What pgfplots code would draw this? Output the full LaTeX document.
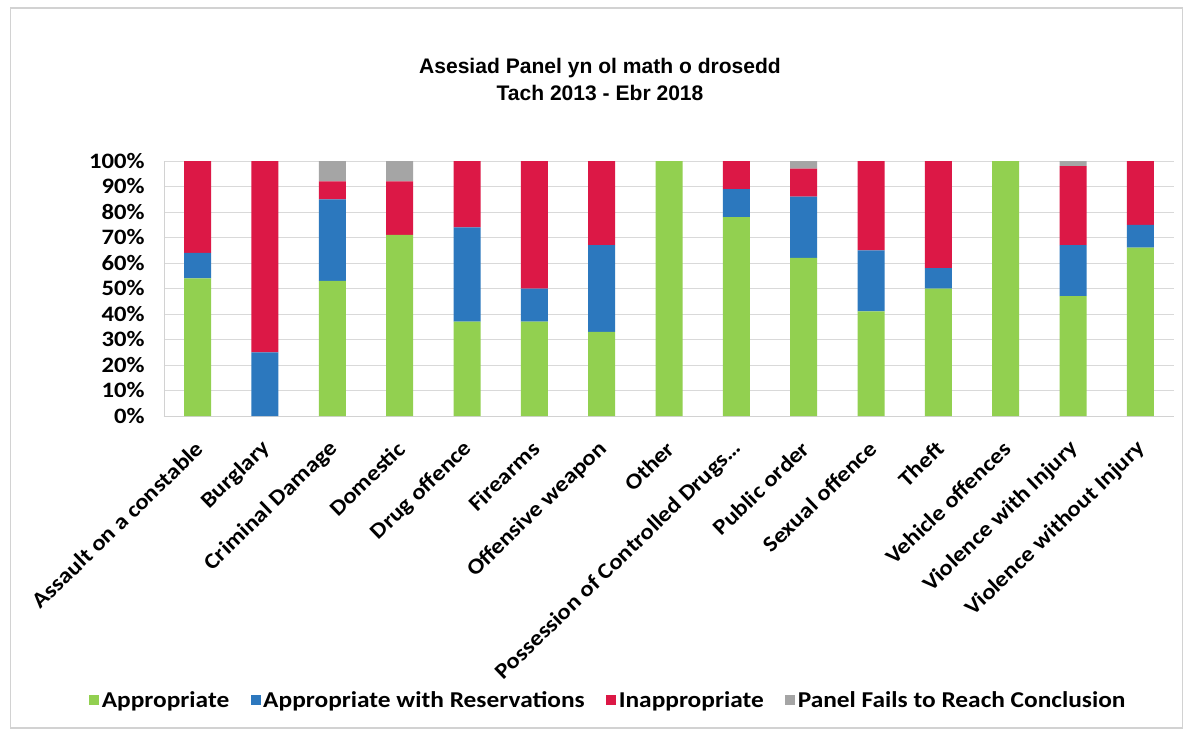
\documentclass[border=0pt]{standalone}
\usepackage{pgfplots}
\usepackage{pgfplotstable}
\pgfplotsset{compat=1.18}
\usepackage{fontspec}
\setmainfont{Carlito}
\newfontfamily\lblfont{Carlito}[FakeStretch=1.12]
\newfontfamily\titlefont{Liberation Sans}
\definecolor{cgreen}{HTML}{92D050}
\definecolor{cblue}{HTML}{2C78BE}
\definecolor{cred}{HTML}{DC1846}
\definecolor{cgrey}{HTML}{A5A5A5}
\pgfplotstableread{
x g b r p
0 54 10 36 0
1 0 25 75 0
2 53 32 7 8
3 71 0 21 8
4 37 37 26 0
5 37 13 50 0
6 33 34 33 0
7 100 0 0 0
8 78 11 11 0
9 62 24 11 3
10 41 24 35 0
11 50 8 42 0
12 100 0 0 0
13 47 20 31 2
14 66 9 25 0
}\datatable
\begin{document}
\begin{tikzpicture}
\useasboundingbox (-123pt,-237pt) rectangle (768.75pt,312pt);
\fill[white] (-123pt,-237pt) rectangle (768.75pt,312pt);
\draw[gray!35, line width=1pt] (-115pt,-234pt) rectangle (764pt,306pt);
\begin{axis}[
  at={(0pt,0pt)}, anchor=south west,
  scale only axis, width=757.5pt, height=191.25pt,
  ybar stacked, bar width=20.25pt,
  xmin=-0.5, xmax=14.5, ymin=0, ymax=100,
  enlarge x limits=false, enlarge y limits=false,
  xtick={0,1,2,3,4,5,6,7,8,9,10,11,12,13,14},
  xticklabels={Assault on a constable,Burglary,Criminal Damage,Domestic,Drug offence,Firearms,Offensive weapon,Other,{Possession of Controlled Drugs\ldots},Public order,Sexual offence,Theft,Vehicle offences,Violence with Injury,Violence without Injury},
  ytick={0,10,20,30,40,50,60,70,80,90,100},
  yticklabels={0\%,10\%,20\%,30\%,40\%,50\%,60\%,70\%,80\%,90\%,100\%},
  ymajorgrids, grid style={gray!30, line width=0.6pt},
  axis x line*=bottom, axis y line*=left,
  axis line style={gray!35, line width=0.6pt},
  tick style={draw=none},
  ticklabel style={font=\lblfont\bfseries\fontsize{16.5}{18}\selectfont, text=black},
  yticklabel style={xshift=-11pt},
  xticklabel style={xshift=1.5pt, yshift=-22pt, rotate=44, anchor=east, inner sep=0pt},
  legend columns=4,
  legend style={draw=none, fill=none, at={(0.4396,-1.114)}, anchor=center,
    font=\lblfont\bfseries\fontsize{17}{19}\selectfont, inner sep=0pt,
    nodes={inner sep=1pt},
    /tikz/every odd column/.append style={column sep=1pt},
    /tikz/every even column/.append style={column sep=15pt}},
  legend image code/.code={\fill[#1] (0pt,-3.5pt) rectangle (7.5pt,4pt);},
]
\addplot[fill=cgreen, draw=none] table[x=x, y=g] {\datatable};
\addplot[fill=cblue, draw=none] table[x=x, y=b] {\datatable};
\addplot[fill=cred, draw=none] table[x=x, y=r] {\datatable};
\addplot[fill=cgrey, draw=none] table[x=x, y=p] {\datatable};
\legend{Appropriate, Appropriate with Reservations, Inappropriate, Panel Fails to Reach Conclusion}
\end{axis}
\node[font=\titlefont\bfseries\fontsize{15.8}{18}\selectfont] at (327pt,261pt) {Asesiad Panel yn ol math o drosedd};
\node[font=\titlefont\bfseries\fontsize{15.8}{18}\selectfont] at (327pt,242.25pt) {Tach 2013 - Ebr 2018};
\end{tikzpicture}
\end{document}
